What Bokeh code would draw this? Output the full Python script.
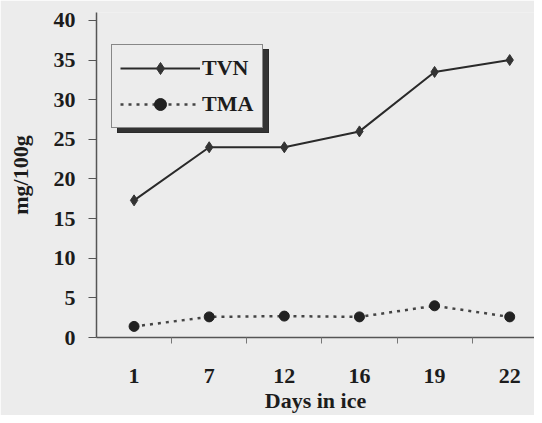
from bokeh.plotting import figure
from bokeh.models import (Range1d, LinearAxis, FixedTicker, Legend,
                          LegendItem, ColumnDataSource)
from bokeh.embed import file_html
from bokeh.resources import INLINE

days = ["1", "7", "12", "16", "19", "22"]
tvn = [17.3, 24.0, 24.0, 26.0, 33.5, 35.0]
tma = [1.4, 2.6, 2.7, 2.6, 4.0, 2.6]
y_ticks = [0, 5, 10, 15, 20, 25, 30, 35, 40]

FONT = "Liberation Serif"
TXT = "#1c1c1c"
BG = "#ececec"

# category slots: each day occupies one unit, centred on index + 0.5
pos = [i + 0.5 for i in range(len(days))]
bounds = [i + 1.0 for i in range(len(days) - 1)]

src = ColumnDataSource(dict(x=pos, tvn=tvn, tma=tma))

p = figure(width=534, height=415,
           x_range=Range1d(0, 5.83),
           y_range=Range1d(0, 41),
           x_axis_type=None, y_axis_type=None,
           output_backend="svg", toolbar_location=None,
           min_border_left=96, min_border_right=0,
           min_border_top=12, min_border_bottom=78)
p.background_fill_color = BG
p.border_fill_color = BG
p.outline_line_color = None
p.xgrid.visible = False
p.ygrid.visible = False

# y axis
yax = LinearAxis(ticker=FixedTicker(ticks=y_ticks, minor_ticks=[]))
yax.axis_label = "mg/100g"
yax.axis_label_text_font = FONT
yax.axis_label_text_font_style = "bold"
yax.axis_label_text_font_size = "22px"
yax.axis_label_text_color = TXT
yax.axis_label_standoff = 18
yax.major_label_text_font = FONT
yax.major_label_text_font_style = "bold"
yax.major_label_text_font_size = "22px"
yax.major_label_text_color = TXT
yax.major_label_standoff = 13
yax.major_tick_out = 8
yax.major_tick_in = 0
yax.axis_line_color = "#555555"
yax.axis_line_width = 1.5
yax.major_tick_line_color = "#555555"
yax.major_tick_line_width = 1.2
p.add_layout(yax, "left")

# x axis: labels at category centres, small ticks between categories
xax = LinearAxis(ticker=FixedTicker(ticks=pos, minor_ticks=bounds))
xax.major_label_overrides = {c: d for c, d in zip(pos, days)}
xax.axis_label = "Days in ice"
xax.axis_label_text_font = FONT
xax.axis_label_text_font_style = "bold"
xax.axis_label_text_font_size = "22px"
xax.axis_label_text_color = TXT
xax.axis_label_standoff = 2
xax.major_label_text_font = FONT
xax.major_label_text_font_style = "bold"
xax.major_label_text_font_size = "22px"
xax.major_label_text_color = TXT
xax.major_label_standoff = 25
xax.major_tick_out = 0
xax.major_tick_in = 0
xax.minor_tick_out = 6
xax.minor_tick_in = 0
xax.minor_tick_line_color = "#777777"
xax.axis_line_color = "#555555"
xax.axis_line_width = 1.5
p.add_layout(xax, "below")

# series
l1 = p.line("x", "tvn", source=src, line_color="#2a2a2a", line_width=2)
m1 = p.scatter("x", "tvn", source=src, marker="diamond", size=11,
               fill_color="#333333", line_color="#333333")
l2 = p.line("x", "tma", source=src, line_color="#444444", line_width=2.5,
            line_dash="3 5")
m2 = p.scatter("x", "tma", source=src, marker="circle", size=10,
               fill_color="#222222", line_color="#222222")


def make_legend(loc, shadow=False):
    if shadow:
        its = [LegendItem(label=" ", renderers=[l1, m1]),
               LegendItem(label=" ", renderers=[l2, m2])]
    else:
        its = [LegendItem(label="TVN", renderers=[l1, m1]),
               LegendItem(label="TMA", renderers=[l2, m2])]
    lg = Legend(items=its, location=loc)
    lg.label_text_font = "'Liberation Serif', serif"
    lg.label_text_font_style = "bold"
    lg.label_text_font_size = "22px"
    lg.label_text_color = TXT
    lg.glyph_width = 80
    lg.glyph_height = 30
    lg.label_height = 30
    lg.label_width = 52
    lg.label_standoff = 2
    lg.spacing = 6
    lg.padding = 8
    lg.border_line_color = "#222222"
    lg.border_line_width = 1.5
    lg.background_fill_color = "#333333" if shadow else BG
    lg.background_fill_alpha = 1.0
    return lg


p.add_layout(make_legend((21, 204), shadow=True), "center")
p.add_layout(make_legend((15, 209)), "center")

open("out.html", "w").write(file_html(p, INLINE))
